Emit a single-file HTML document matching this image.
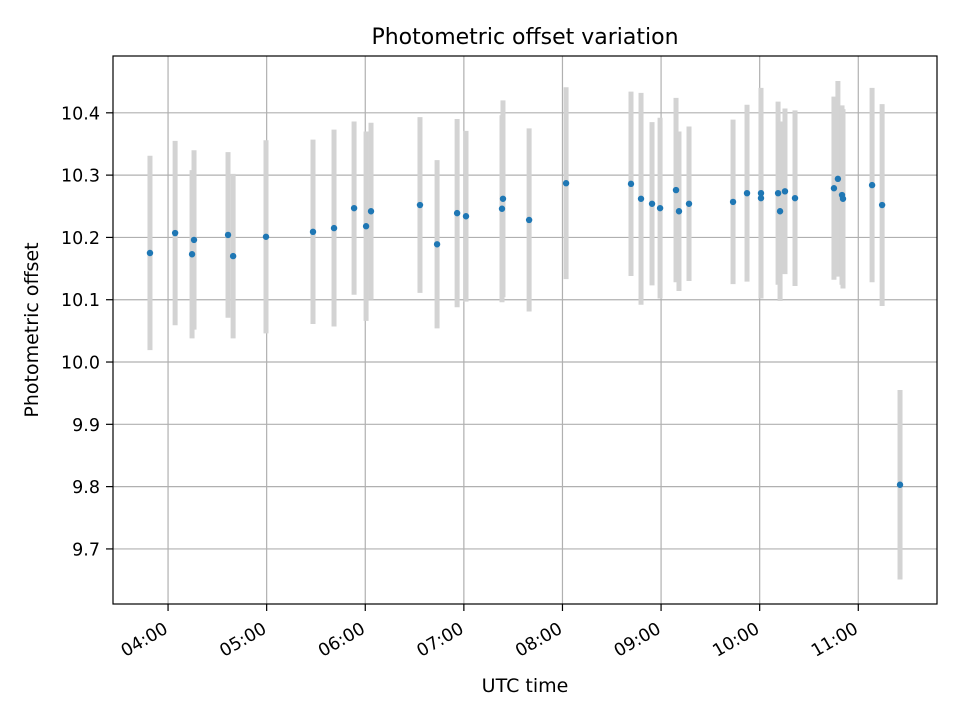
<!DOCTYPE html>
<html><head><meta charset="utf-8"><style>
body{margin:0;background:#fff;}
svg text{font-family:"DejaVu Sans","Liberation Sans",sans-serif;}
</style></head><body>
<svg id="chart" width="960" height="720" xmlns="http://www.w3.org/2000/svg">
<rect width="960" height="720" fill="#fff"/>
<g id="grid"></g>
<g id="bars"></g>
<g id="pts"></g>
<rect x="113" y="56" width="824" height="548" fill="none" stroke="#000" stroke-width="1.2"/>
<g id="axes"></g>
<text x="525" y="44" font-size="22" text-anchor="middle">Photometric offset variation</text>
<text x="525" y="692" font-size="19" text-anchor="middle">UTC time</text>
<text x="38" y="330" font-size="19" text-anchor="middle" transform="rotate(-90 38 330)">Photometric offset</text>
</svg>
<script>
// time in minutes since midnight UTC
const times=[229,244.3,254.6,255.8,276.5,279.6,299.6,328.2,341.0,353.2,360.5,363.5,393.3,403.7,415.9,421.3,443.2,443.8,459.7,482.2,521.7,527.8,534.5,539.4,549.1,550.9,557.0,583.8,592.3,600.8,600.8,611.2,612.4,615.4,621.5,645.2,647.6,650.1,650.7,668.4,674.5,685.4];
const offsets=[10.175,10.207,10.173,10.196,10.204,10.170,10.201,10.209,10.215,10.247,10.218,10.242,10.252,10.189,10.239,10.234,10.246,10.262,10.228,10.287,10.286,10.262,10.254,10.247,10.276,10.242,10.254,10.257,10.271,10.271,10.263,10.271,10.242,10.274,10.263,10.279,10.294,10.268,10.262,10.284,10.252,9.803];
const errors=[0.156,0.148,0.135,0.144,0.133,0.132,0.155,0.148,0.158,0.139,0.152,0.142,0.141,0.135,0.151,0.137,0.150,0.158,0.147,0.154,0.148,0.170,0.131,0.145,0.148,0.128,0.124,0.132,0.142,0.169,0.140,0.147,0.144,0.133,0.141,0.147,0.157,0.144,0.144,0.156,0.162,0.152];
const xTickMinutes=[240,300,360,420,480,540,600,660];
const xTickLabels=["04:00","05:00","06:00","07:00","08:00","09:00","10:00","11:00"];
const yTicks=[9.7,9.8,9.9,10.0,10.1,10.2,10.3,10.4];
const yTickLabels=["9.7","9.8","9.9","10.0","10.1","10.2","10.3","10.4"];

const X0=113,X1=937,Y0=604,Y1=56;
const xMin=206.5,xMax=707.9,yMin=9.6116,yMax=10.4912;
const xs=m=>X0+(m-xMin)/(xMax-xMin)*(X1-X0);
const ys=v=>Y0-(v-yMin)/(yMax-yMin)*(Y0-Y1);
const NS="http://www.w3.org/2000/svg";
function mk(tag,attrs,parent){const e=document.createElementNS(NS,tag);for(const k in attrs)e.setAttribute(k,attrs[k]);parent.appendChild(e);return e;}
const grid=document.getElementById('grid'),axes=document.getElementById('axes'),bars=document.getElementById('bars'),pts=document.getElementById('pts');
xTickMinutes.forEach((m,i)=>{
  const x=xs(m);
  const g=mk('line',{x1:x,x2:x,y1:Y1,y2:Y0,stroke:'#b0b0b0','stroke-width':1.2},grid);
  
  
  const t=mk('line',{x1:x,x2:x,y1:Y0,y2:Y0+7,stroke:'#000','stroke-width':1.2},axes);
  
  
  const ax=x+1, ay=Y0+28;
  const lb=mk('text',{x:ax,y:ay,'font-size':17.5,'text-anchor':'end',transform:`rotate(-30 ${ax} ${ay})`},axes);
  lb.textContent=xTickLabels[i];
  
  
});
yTicks.forEach((v,i)=>{
  const y=ys(v);
  const g=mk('line',{x1:X0,x2:X1,y1:y,y2:y,stroke:'#b0b0b0','stroke-width':1.2},grid);
  
  
  const t=mk('line',{x1:X0-7,x2:X0,y1:y,y2:y,stroke:'#000','stroke-width':1.2},axes);
  
  
  const lb=mk('text',{x:X0-13,y:y+6.5,'font-size':17.5,'text-anchor':'end'},axes);
  lb.textContent=yTickLabels[i];
  
  
});
times.forEach((m,i)=>{
  const x=xs(m);
  const b=mk('line',{x1:x,x2:x,y1:ys(offsets[i]+errors[i]),y2:ys(offsets[i]-errors[i]),stroke:'#d3d3d3','stroke-width':5},bars);
  
  
  const c=mk('circle',{cx:x,cy:ys(offsets[i]),r:3.2,fill:'#1f77b4'},pts);
  
  
});
</script>
</body></html>
